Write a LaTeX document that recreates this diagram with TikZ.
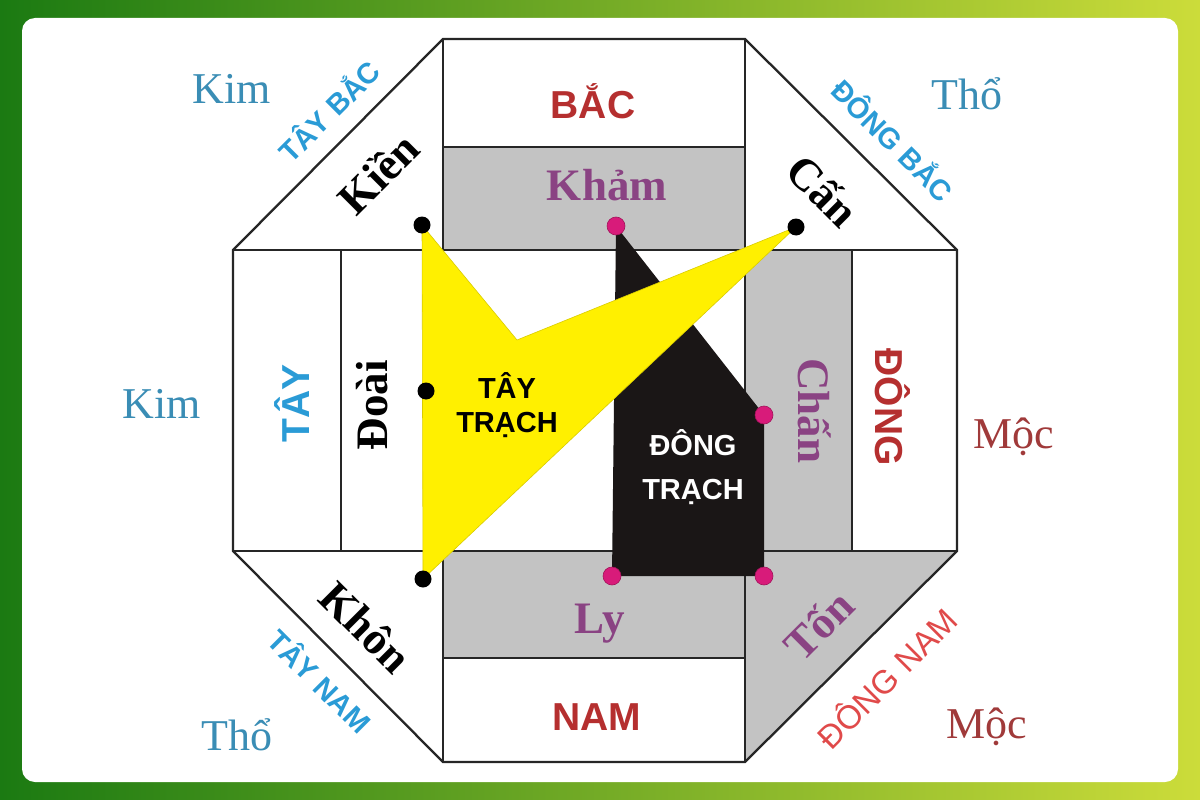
\documentclass[tikz,border=0pt]{standalone}
\usepackage{fontspec}
\setmainfont{Liberation Serif}
\setsansfont{Liberation Sans}
\usetikzlibrary{shapes}

\definecolor{bgLeft}{HTML}{1B7A12}
\definecolor{bgRight}{HTML}{CCDC3A}
\definecolor{cellGray}{HTML}{C3C3C3}
\definecolor{elemBlue}{HTML}{3A8DB5}
\definecolor{dirBlue}{HTML}{2A9BD6}
\definecolor{dirRed}{HTML}{B52F2F}
\definecolor{seRed}{HTML}{E04A4A}
\definecolor{mocRed}{HTML}{A03A3A}
\definecolor{trigPurple}{HTML}{8A4383}
\definecolor{dotPink}{HTML}{D81B7A}
\definecolor{houseYellow}{HTML}{FFF000}
\definecolor{houseBlack}{HTML}{1A1616}

\begin{document}
\begin{tikzpicture}[x=1pt, y=-1pt]
    \tikzstyle{every node} = [inner sep=0pt]
    \tikzstyle{grid} = [draw=black!85, line width=2.3pt, line join=miter]
    \tikzstyle{dotb} = [circle, fill=black, minimum size=17pt]
    \tikzstyle{dotp} = [circle, fill=dotPink, draw=dotPink!75!black, line width=0.6pt, minimum size=18pt]
    \tikzstyle{elem} = [anchor=base, font=\fontsize{44}{48}\selectfont]
    \tikzstyle{trig} = [font=\bfseries\fontsize{45}{48}\selectfont]
    \tikzstyle{dir} = [font=\sffamily\bfseries\fontsize{39}{42}\selectfont, text=dirRed]
    \tikzstyle{diag} = [font=\sffamily\bfseries\fontsize{29}{32}\selectfont, text=dirBlue]
    \tikzstyle{house} = [align=center, font=\sffamily\bfseries\fontsize{29}{34}\selectfont]
    \useasboundingbox (0,0) rectangle (1200,800);
    \shade [left color=bgLeft, right color=bgRight] (0,0) rectangle (1200,800);
    \fill [white, rounded corners=13pt] (22,18) rectangle (1178,782);
    % gray cells
    \fill [cellGray] (443,147) rectangle (745,250);
    \fill [cellGray] (745,250) rectangle (852,551);
    \fill [cellGray] (443,551) rectangle (745,658);
    \fill [cellGray] (745,551) -- (957,551) -- (745,762) -- cycle;
    % octagon and cells
    \draw [grid] (443,39) -- (745,39) -- (957,250) -- (957,551) -- (745,762)
        -- (443,762) -- (233,551) -- (233,250) -- cycle;
    \draw [grid] (233,250) -- (957,250);
    \draw [grid] (233,551) -- (957,551);
    \draw [grid] (443,39) -- (443,762);
    \draw [grid] (745,39) -- (745,762);
    \draw [grid] (443,147) -- (745,147);
    \draw [grid] (443,658) -- (745,658);
    \draw [grid] (341,250) -- (341,551);
    \draw [grid] (852,250) -- (852,551);
    % corners of the two houses
    \coordinate (kien) at (422,225);
    \coordinate (notch) at (517,340);
    \coordinate (can) at (796,227);
    \coordinate (khon) at (423,579);
    \coordinate (doai) at (426,391);
    \coordinate (kham) at (616,226);
    \coordinate (chan) at (764,415);
    \coordinate (ton) at (764,576);
    \coordinate (ly) at (612,576);
    \fill [houseBlack] (kham) -- (chan) -- (ton) -- (ly) -- cycle;
    \filldraw [fill=houseYellow, draw=houseYellow!85!black, line width=0.6pt]
        (kien) -- (notch) -- (can) -- (khon) -- cycle;
    \node (kienDot) [dotb] at (kien) {};
    \node (canDot) [dotb] at (can) {};
    \node (khonDot) [dotb] at (khon) {};
    \node (doaiDot) [dotb] at (doai) {};
    \node (khamDot) [dotp] at (kham) {};
    \node (chanDot) [dotp] at (chan) {};
    \node (tonDot) [dotp] at (ton) {};
    \node (lyDot) [dotp] at (ly) {};
    \node (tayTrach) [house] at (507,405) {TÂY\\TRẠCH};
    \node (dongTrach) [house, text=white, font=\sffamily\bfseries\fontsize{29}{44}\selectfont] at (693,467) {ĐÔNG\\TRẠCH};
    % directions
    \node (bac) [dir, anchor=base] at (593,118) {BẮC};
    \node (nam) [dir, anchor=base] at (597,730) {NAM};
    \node (dong) [dir, rotate=-90] at (893,407) {ĐÔNG};
    \node (tay) [dir, text=dirBlue, rotate=90] at (292,403) {TÂY};
    \node (tayBac) [diag, rotate=45] at (328,110) {TÂY BẮC};
    \node (dongBac) [diag, rotate=-45] at (894,139) {ĐÔNG BẮC};
    \node (tayNam) [diag, rotate=-45] at (321,680) {TÂY NAM};
    \node (dongNam) [rotate=45, text=seRed, font=\sffamily\fontsize{33}{36}\selectfont] at (886,677) {ĐÔNG NAM};
    % trigrams
    \node (kienL) [trig, rotate=45] at (378,173) {Kiền};
    \node (khamL) [trig, text=trigPurple, anchor=base] at (607,200) {Khảm};
    \node (canL) [trig, rotate=-45] at (823,190) {Cấn};
    \node (doaiL) [trig, rotate=90] at (372,405) {Đoài};
    \node (chanL) [trig, text=trigPurple, rotate=-90] at (815,411) {Chấn};
    \node (khonL) [trig, rotate=-45] at (366,627) {Khôn};
    \node (lyL) [trig, text=trigPurple, anchor=base] at (600,633) {Ly};
    \node (tonL) [trig, text=trigPurple, rotate=45] at (818,625) {Tốn};
    % elements
    \node (kimNW) [elem, text=elemBlue] at (232,103) {Kim};
    \node (thoNE) [elem, text=elemBlue] at (967,110) {Thổ};
    \node (kimW) [elem, text=elemBlue] at (162,418) {Kim};
    \node (mocE) [elem, text=mocRed] at (1014,448) {Mộc};
    \node (thoSW) [elem, text=elemBlue] at (237,750) {Thổ};
    \node (mocSE) [elem, text=mocRed] at (987,738) {Mộc};
\end{tikzpicture}
\end{document}
